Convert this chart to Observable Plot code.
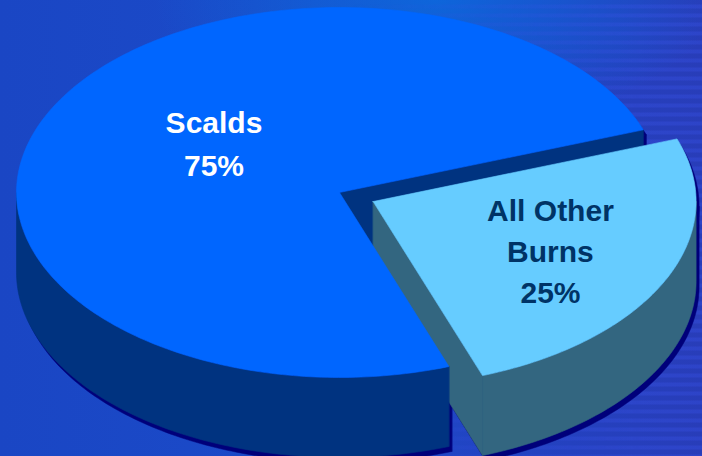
<!DOCTYPE html>
<html>
<head>
<meta charset="utf-8">
<script src="https://cdn.jsdelivr.net/npm/d3@7"></script>
<script src="https://cdn.jsdelivr.net/npm/@observablehq/plot@0.6"></script>
<style>
  html, body { margin: 0; padding: 0; width: 702px; height: 456px; overflow: hidden; }
  #bg {
    position: relative; width: 702px; height: 456px;
    background:
      radial-gradient(ellipse 40% 28% at 62% 0%, rgba(8,112,226,0.75), rgba(8,112,226,0) 100%),
      linear-gradient(90deg, #1a46c4 0%, #1b4bc9 45%, #2243c2 72%, #283db9 100%);
  }
  #stripes {
    position: absolute; left: 0; top: 0; width: 702px; height: 456px;
    background: repeating-linear-gradient(180deg,
      rgba(60,85,235,0) 0px, rgba(60,85,235,0) 4px,
      rgba(60,85,235,0.3) 5px, rgba(60,85,235,0.3) 8px, rgba(60,85,235,0) 9px);
    -webkit-mask-image: linear-gradient(90deg, transparent 50%, black 92%);
    mask-image: linear-gradient(90deg, transparent 50%, black 92%);
  }
  #chart { position: absolute; left: 0; top: 0; }
</style>
</head>
<body>
<div id="bg"><div id="stripes"></div><div id="chart"></div></div>
<script>
// ---- data ----
const categories = ["All Other Burns", "Scalds"];
const values = [25, 75];
const nameLabels = ["All Other\nBurns", "Scalds"];
const percentLabels = ["25%", "75%"];
const exploded = ["All Other Burns"];

// ---- style ----
const topColors = ["#66CCFF", "#0066FF"];
const sideColors = ["#336680", "#003380"];
const labelColors = ["#003366", "#FFFFFF"];
const shadowColor = "#00007a";
const startDeg = -19.8;     // where the first slice begins (screen angle, clockwise)
const depth = 0.432;        // thickness of the pie in radius units (vertical)
const explodeDist = 0.115;  // radial offset of exploded slice

// ---- geometry from data ----
const total = d3.sum(values);
let acc = startDeg;
const slices = categories.map((c, i) => {
  const a0 = acc, a1 = acc + values[i] / total * 360;
  acc = a1;
  const mid = (a0 + a1) / 2 * Math.PI / 180;
  const ex = exploded.includes(c) ? explodeDist : 0;
  return {c, i, a0, a1, mid, ox: ex * Math.cos(mid), oy: ex * Math.sin(mid)};
});

function arc(s, from, to, dz = 0) {
  const n = Math.max(2, Math.ceil(Math.abs(to - from)));
  const pts = [];
  for (let k = 0; k <= n; k++) {
    const t = (from + (to - from) * k / n) * Math.PI / 180;
    pts.push({x: s.ox + Math.cos(t), y: s.oy + Math.sin(t) + dz});
  }
  return pts;
}
function rim(s, a, dz = 0) {
  const t = a * Math.PI / 180;
  return {x: s.ox + Math.cos(t), y: s.oy + Math.sin(t) + dz};
}
function piece(s) {
  const c = {x: s.ox, y: s.oy}, cb = {x: s.ox, y: s.oy + depth};
  const top = [c, ...arc(s, s.a0, s.a1), c];
  const sides = [];
  for (let k = -1; k <= 1; k++) {
    const lo = Math.max(s.a0, 360 * k), hi = Math.min(s.a1, 360 * k + 180);
    if (lo < hi) sides.push([...arc(s, lo, hi), ...arc(s, hi, lo, depth)]);
  }
  const walls = [];
  if (Math.cos(s.a0 * Math.PI / 180) < 0) walls.push([c, rim(s, s.a0), rim(s, s.a0, depth), cb]);
  if (Math.cos(s.a1 * Math.PI / 180) > 0) walls.push([c, rim(s, s.a1), rim(s, s.a1, depth), cb]);
  return {top, sides, walls};
}
const pieces = slices.map(piece);

let pid = 0;
function tag(pts, fill) { const id = pid++; return pts.map(p => ({...p, id, fill})); }

// shadow silhouettes
const shadowPolys = [];
pieces.forEach(p => {
  shadowPolys.push(...tag(p.top, shadowColor));
  p.sides.forEach(q => shadowPolys.push(...tag(q, shadowColor)));
  p.walls.forEach(q => shadowPolys.push(...tag(q, shadowColor)));
});

// layered faces: main pie's cut wall, then exploded slice, then main pie body
const mainIdx = slices.findIndex(s => !exploded.includes(s.c));
const exIdx = slices.findIndex(s => exploded.includes(s.c));
const faces = [];
pieces[mainIdx].walls.forEach(q => faces.push(...tag(q, sideColors[mainIdx])));
pieces[exIdx].sides.forEach(q => faces.push(...tag(q, sideColors[exIdx])));
pieces[exIdx].walls.forEach(q => faces.push(...tag(q, sideColors[exIdx])));
faces.push(...tag(pieces[exIdx].top, topColors[exIdx]));
pieces[mainIdx].sides.forEach(q => faces.push(...tag(q, sideColors[mainIdx])));
faces.push(...tag(pieces[mainIdx].top, topColors[mainIdx]));

const labelData = slices.map((s, i) => ({
  ...s,
  text: nameLabels[i] + "\n" + percentLabels[i]
}));
const labelR = [0.6, 0.45];

const chart = Plot.plot({
  width: 702,
  height: 456,
  margin: 0,
  x: {domain: [-339 / 323, 363 / 323], range: [0, 702], axis: null},
  y: {domain: [-192 / 185, 264 / 185], range: [0, 456], axis: null},
  color: {type: "identity"},
  style: {background: "transparent", overflow: "visible"},
  marks: [
    Plot.line(shadowPolys, {x: "x", y: "y", z: "id", fill: "fill", stroke: "fill", strokeWidth: 0.5, dx: 3, dy: 5, curve: "linear-closed"}),
    Plot.line(faces, {x: "x", y: "y", z: "id", fill: "fill", stroke: "fill", strokeWidth: 0.6, curve: "linear-closed"}),
    Plot.text([labelData[exIdx]], {
      x: d => d.ox + labelR[d.i] * Math.cos(d.mid),
      y: d => d.oy + labelR[d.i] * Math.sin(d.mid),
      text: "text", fill: labelColors[exIdx],
      fontSize: 30, fontWeight: "bold", fontFamily: "Liberation Sans, Arial, sans-serif",
      lineHeight: 1.37, lineAnchor: "middle", dx: 2, dy: 0
    }),
    Plot.text([labelData[mainIdx]], {
      x: d => d.ox + labelR[d.i] * Math.cos(d.mid),
      y: d => d.oy + labelR[d.i] * Math.sin(d.mid),
      text: "text", fill: labelColors[mainIdx],
      fontSize: 30, fontWeight: "bold", fontFamily: "Liberation Sans, Arial, sans-serif",
      lineHeight: 1.42, lineAnchor: "middle", dx: 6, dy: -16
    })
  ]
});
document.getElementById("chart").appendChild(chart);
</script>
</body>
</html>
